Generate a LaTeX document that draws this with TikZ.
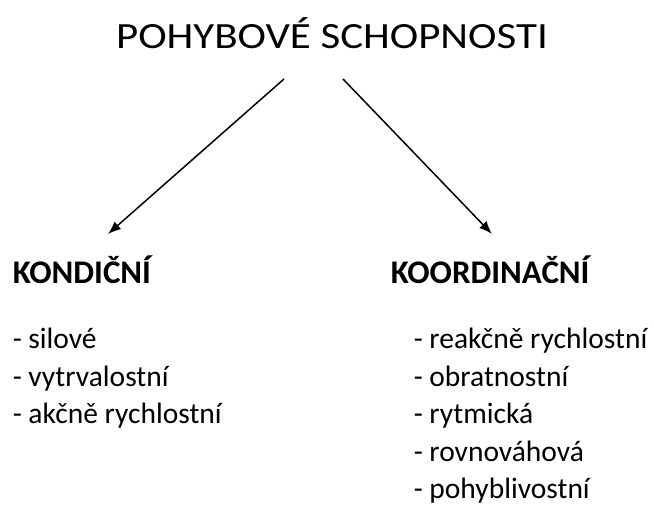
\documentclass[tikz,border=0pt]{standalone}
\usepackage{fontspec}
\setmainfont{Carlito}
\usepackage{tikz}
\usetikzlibrary{arrows.meta}
\usetikzlibrary{positioning}

\begin{document}
\begin{tikzpicture}[x=1pt,y=-1pt,
	title/.style={font=\fontsize{37}{40}\selectfont,inner sep=0pt,anchor=base},
	head/.style={font=\fontsize{33}{36}\selectfont\bfseries,inner sep=0pt,anchor=base west},
	item/.style={font=\fontsize{29.5}{34}\selectfont,inner sep=0pt,anchor=base west},
	line width=1.5pt,->,>={Latex[length=13pt,width=10pt]}]
	\useasboundingbox (0,0) rectangle (654,518);

	\node[title] (t) at (332,49) {\scalebox{1.16}[1]{POHYBOVÉ SCHOPNOSTI}};

	\node[head] (k) at (12,284) {KONDIČNÍ};
	\node[head] (r) at (390,284) {KOORDINAČNÍ};

	% skupiny
	\foreach \txt [count=\i] in {silové,vytrvalostní,akčně rychlostní}
		\node[item] (k\i) at (12,349+37.5*\i-37.5) {- \txt};
	\foreach \txt [count=\i] in {reakčně rychlostní,obratnostní,rytmická,rovnováhová,pohyblivostní}
		\node[item] (r\i) at (413,349+37.5*\i-37.5) {- \txt};

	\coordinate (t1) at (284,79);
	\coordinate (t2) at (343,79);
	\coordinate (k0) at (108,234);
	\coordinate (r0) at (492,234);
	\draw (t1) -- (k0);
	\draw (t2) -- (r0);
\end{tikzpicture}
\end{document}
